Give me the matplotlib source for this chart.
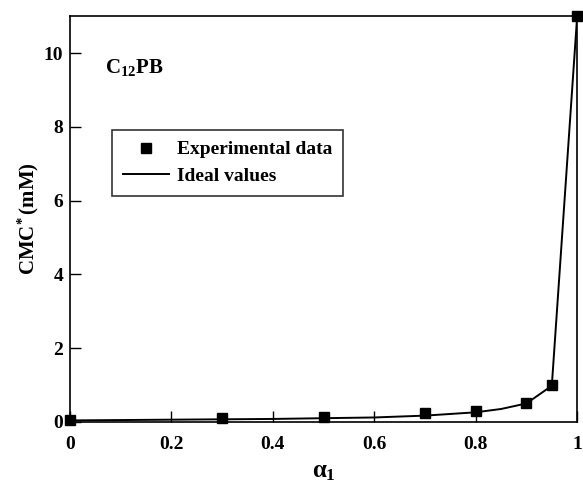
import matplotlib
matplotlib.use("Agg")
import matplotlib.pyplot as plt

plt.rcParams['font.family'] = ['Liberation Serif', 'DejaVu Serif']
plt.rcParams['font.weight'] = 'bold'
plt.rcParams['mathtext.fontset'] = 'custom'
plt.rcParams['mathtext.rm'] = 'Liberation Serif:bold'
plt.rcParams['mathtext.it'] = 'Liberation Serif:bold'
plt.rcParams['mathtext.bf'] = 'Liberation Serif:bold'

# datos experimentales
alfa_exp = [0.0, 0.3, 0.5, 0.7, 0.8, 0.9, 0.95, 1.0]
cmc_exp = [0.05, 0.1, 0.13, 0.25, 0.3, 0.5, 1.0, 11.0]

# valores ideales
alfa_ideal = [0.0, 0.1, 0.2, 0.3, 0.4, 0.5, 0.6, 0.7, 0.8, 0.85, 0.9, 0.95, 1.0]
cmc_ideal = [0.04, 0.05, 0.06, 0.07, 0.08, 0.1, 0.12, 0.17, 0.26, 0.35, 0.5, 0.98, 11.0]

fig = plt.figure(figsize=(5.83, 4.9), dpi=100)
ax = fig.add_axes([0.12, 0.139, 0.87, 0.828])

ax.plot(alfa_ideal, cmc_ideal, color='black', linewidth=1.4, label='Ideal values')
ax.plot(alfa_exp, cmc_exp, 's', color='black', markersize=7, label='Experimental data',
        clip_on=False, zorder=5)

ax.set_xlim(0, 1)
ax.set_ylim(0, 11)
ax.set_xticks([0, 0.2, 0.4, 0.6, 0.8, 1])
ax.set_xticklabels(['0', '0.2', '0.4', '0.6', '0.8', '1'])
ax.set_yticks([0, 2, 4, 6, 8, 10])
ax.tick_params(direction='in', length=8, width=1, labelsize=14,
               top=False, right=False)
ax.tick_params(axis='x', pad=10)
ax.tick_params(axis='y', pad=5)
for s in ax.spines.values():
    s.set_linewidth(1.2)

ax.set_xlabel(r'$\alpha_1$', fontsize=18, labelpad=6)
ax.set_ylabel(r'CMC$^{\!*}$(mM)', fontsize=15, fontweight='bold', labelpad=2)

ax.text(0.07, 9.45, r'C$_{12}$PB', fontsize=15, fontweight='bold')

handles, labels = ax.get_legend_handles_labels()
leg = ax.legend(handles[::-1], labels[::-1], loc='upper left',
                bbox_to_anchor=(0.083, 0.719), fontsize=14, frameon=True,
                fancybox=False, edgecolor='black', handlelength=2.4,
                handletextpad=0.4, borderpad=0.55, labelspacing=0.45,
                borderaxespad=0)
leg.get_frame().set_linewidth(1.2)

plt.savefig('out.png', dpi=100)
